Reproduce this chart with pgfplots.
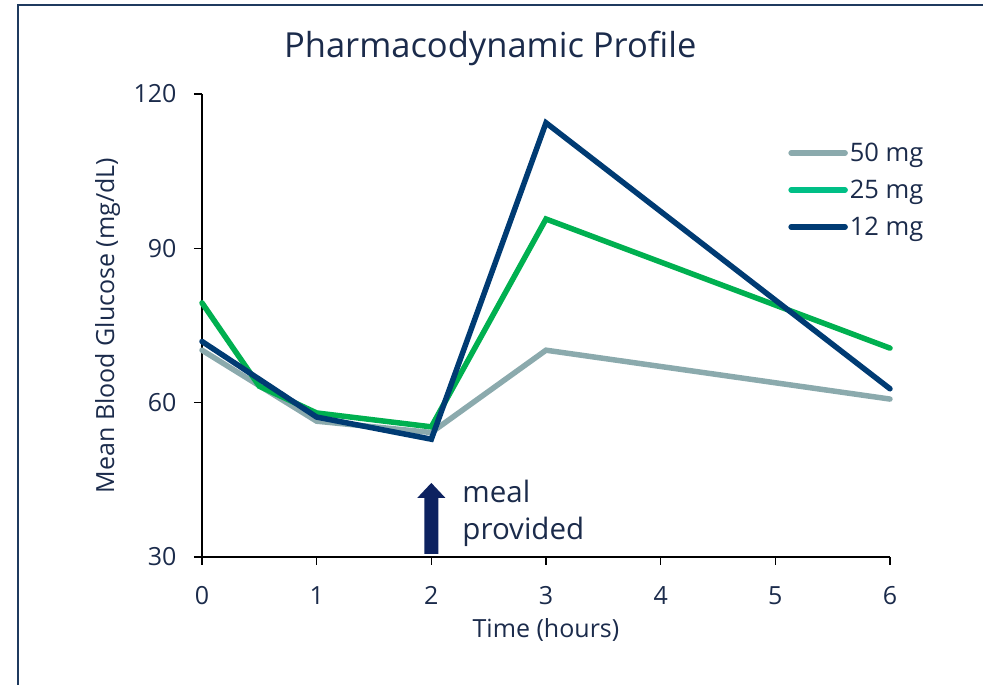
\documentclass[border=0pt]{standalone}
\usepackage{fontspec}
\setmainfont{Open Sans}
\usepackage{pgfplots}
\pgfplotsset{compat=1.18}

\definecolor{txt}{HTML}{1B2B4B}
\definecolor{frame}{HTML}{1F3A5F}
\definecolor{grey50}{HTML}{8BAAAD}
\definecolor{green25}{HTML}{00B050}
\definecolor{leg25}{HTML}{00BF86}
\definecolor{navy12}{HTML}{003B73}
\definecolor{arrowc}{HTML}{0D2260}

\begin{document}
\begin{tikzpicture}
\useasboundingbox (-202pt,-128pt) rectangle (781pt,557pt);
% outer frame (only top and left edges visible)
\draw[frame,line width=2.5pt] (-184pt,-130pt) -- (-184pt,552pt) -- (785pt,552pt);

\begin{axis}[
  at={(0,0)}, anchor=south west,
  scale only axis,
  width=688pt, height=463pt,
  xmin=0, xmax=6, ymin=30, ymax=120,
  xtick={0,1,2,3,4,5,6},
  ytick={30,60,90,120},
  axis x line*=bottom, axis y line*=left,
  axis line style={black,line width=1.3pt,-},
  tick style={black,line width=1.3pt},
  tick align=outside,
  major tick length=8pt,
  /pgf/number format/assume math mode=true,
  tick label style={font=\fontsize{25}{29}\selectfont, text=txt},
  xticklabel style={yshift=-18pt},
  yticklabel style={xshift=-14pt},
  xlabel={Time (hours)},
  ylabel={Mean Blood Glucose (mg/dL)},
  label style={font=\fontsize{25}{29}\selectfont, text=txt},
  xlabel style={at={(axis description cs:0.5,-0.158)}, anchor=center},
  ylabel style={at={(axis description cs:-0.137,0.5)}, anchor=center},
  title={Pharmacodynamic Profile},
  title style={at={(axis description cs:0.419,1.086)}, anchor=center,
    font=\fontsize{34.5}{40}\selectfont, text=txt},
  legend style={draw=none, fill=none, at={(axis description cs:0.852,0.899)},
    anchor=north west, font=\fontsize{25.5}{29}\selectfont, text=txt,
    row sep=13pt, inner sep=0pt},
  legend cell align=left,
  every axis plot/.append style={line width=5.5pt, line cap=round, line join=miter},
  clip=false,
]
\addplot[grey50, forget plot] coordinates {(0,70.2) (1,56.4) (2,54.2) (3,70.2) (6,60.7)};
\addplot[green25, forget plot] coordinates {(0,79.4) (0.5,63.2) (1,58.0) (2,55.3) (3,95.7) (6,70.6)};
\addplot[navy12, forget plot] coordinates {(0,71.9) (1,57.2) (2,52.9) (3,114.4) (6,62.7)};

\addlegendimage{legend image code/.code={\draw[grey50,line width=5.5pt,line cap=round] (0pt,0pt) -- (54pt,0pt);}}
\addlegendentry{50 mg}
\addlegendimage{legend image code/.code={\draw[leg25,line width=5.5pt,line cap=round] (0pt,0pt) -- (54pt,0pt);}}
\addlegendentry{25 mg}
\addlegendimage{legend image code/.code={\draw[navy12,line width=5.5pt,line cap=round] (0pt,0pt) -- (54pt,0pt);}}
\addlegendentry{12 mg}

% meal arrow annotation
\fill[arrowc] ([xshift=-7pt]axis cs:2,30.6) -- ([xshift=-7pt]axis cs:2,41.5)
  -- ([xshift=-14pt]axis cs:2,41.5) -- (axis cs:2,44.4)
  -- ([xshift=14pt]axis cs:2,41.5) -- ([xshift=7pt]axis cs:2,41.5)
  -- ([xshift=7pt]axis cs:2,30.6) -- cycle;
\node[anchor=north west, align=left, text=txt, font=\fontsize{29.5}{37}\selectfont, inner sep=0pt]
  at (axis cs:2.27,45.0) {meal\\provided};
\end{axis}
\end{tikzpicture}
\end{document}
